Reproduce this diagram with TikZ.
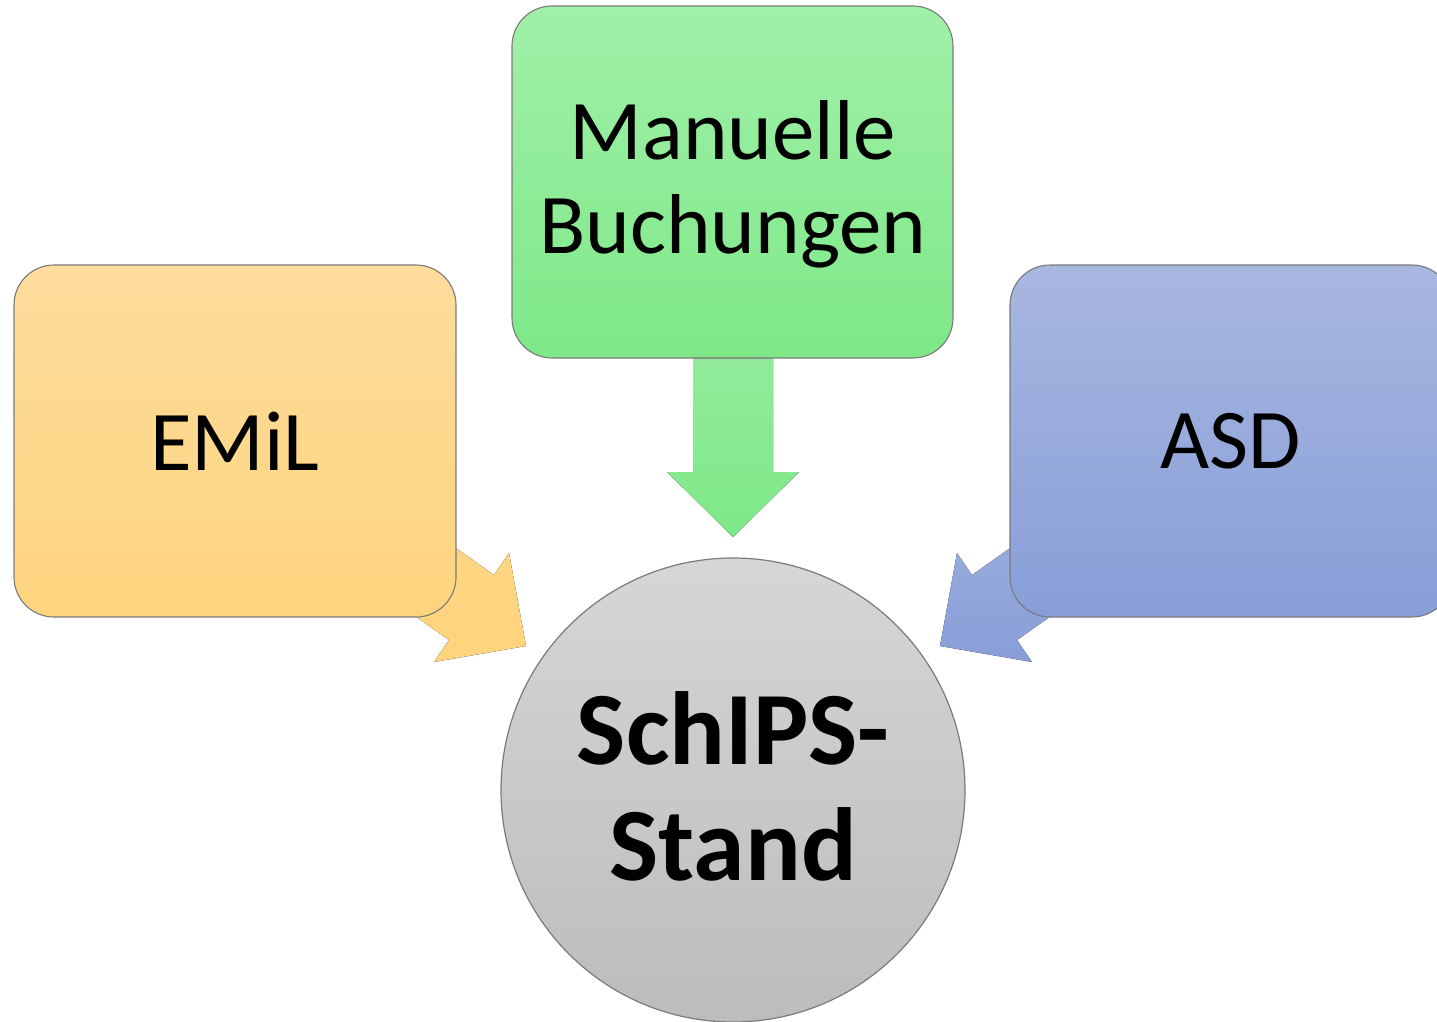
\documentclass[tikz,border=0pt]{standalone}
\usepackage{fontspec}
\setmainfont{Carlito}
\usetikzlibrary{backgrounds,calc}
\definecolor{orT}{HTML}{FDDC9C}
\definecolor{orB}{HTML}{FED47E}
\definecolor{grT}{HTML}{A0F0A8}
\definecolor{grB}{HTML}{7EE888}
\definecolor{blT}{HTML}{A8B7E0}
\definecolor{blB}{HTML}{889ED8}
\definecolor{ciT}{HTML}{D6D6D6}
\definecolor{ciB}{HTML}{BCBCBC}
\definecolor{edgegray}{HTML}{7A7A7A}
\tikzset{
  srcbox/.style={draw=edgegray, line width=1.1pt, rounded corners=40pt,
    minimum width=442pt, minimum height=352pt, inner sep=0pt, align=center,
    font=\fontsize{85}{95}\selectfont},
  hub/.style={circle, draw=edgegray, line width=1.2pt, minimum size=464pt,
    inner sep=0pt, align=center, font=\fontsize{104}{116}\selectfont\bfseries,
    top color=ciT, bottom color=ciB},
  blockarrow/.style={draw=none}
}
\begin{document}
\begin{tikzpicture}[x=1pt,y=-1pt]
\useasboundingbox (0,0) rectangle (1437,1022);
\clip (0,0) rectangle (1437,1022);
% nodes
\node[srcbox, top color=orT, bottom color=orB] (emil) at (235,441) {EMiL};
\node[srcbox, top color=grT, bottom color=grB, minimum width=441pt] (man) at (732.5,182) {};
\node[align=center, font=\fontsize{85}{94}\selectfont] (mantext) at (733,184) {Manuelle\\Buchungen};
\node[srcbox, top color=blT, bottom color=blB] (asd) at (1231,441) {ASD};
\node[hub] (schips) at (733,790) {};
\node[align=center, font=\fontsize{104}{116}\selectfont\bfseries] (schipstext) at (733,786) {SchIPS-\\Stand};
% block arrows behind the nodes
\begin{pgfonlayer}{background}
  % green: from man down to schips
  \fill[top color=grB!85!white, bottom color=grB, blockarrow]
    (man.south -| 693,0) -- (693,472) -- (667,472) -- (733,537) -- (799,472)
    -- (773,472) -- (man.south -| 773,0) -- cycle;
  % orange: from emil to schips
  \fill[top color=orB!80!orT, bottom color=orB, blockarrow]
    (344,469) -- (494,575) -- (509,553) -- (526,646) -- (434,662) -- (449,640)
    -- (299,534) -- cycle;
  % blue: from asd to schips
  \fill[top color=blT!80!blB, bottom color=blB, blockarrow]
    (1122,469) -- (972,575) -- (957,553) -- (940,646) -- (1032,662) -- (1017,640)
    -- (1167,534) -- cycle;
\end{pgfonlayer}
\end{tikzpicture}
\end{document}
